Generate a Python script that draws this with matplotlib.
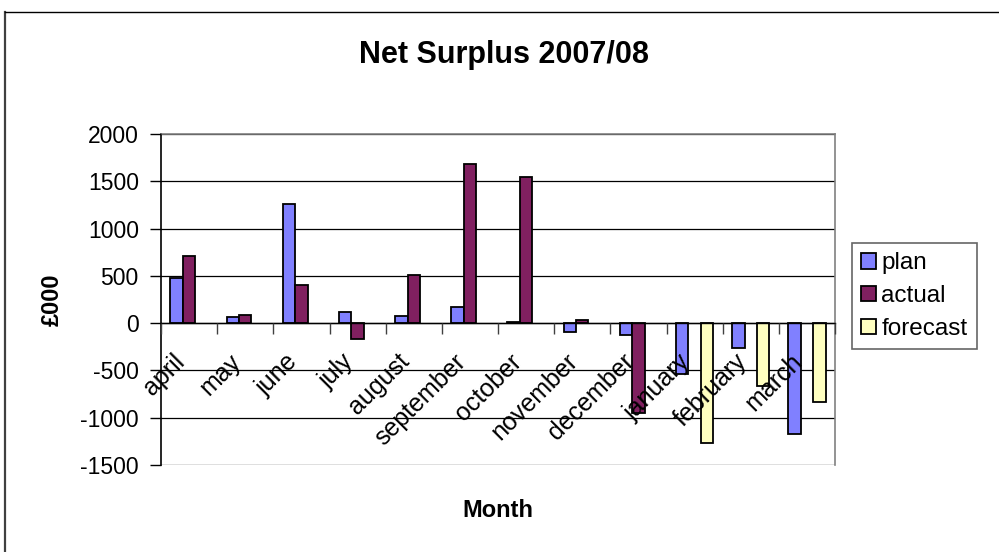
import numpy as np
import matplotlib.pyplot as plt
from matplotlib.lines import Line2D
from matplotlib.transforms import ScaledTranslation

months = ['april', 'may', 'june', 'july', 'august', 'september', 'october',
          'november', 'december', 'january', 'february', 'march']
plan = [480, 60, 1255, 115, 80, 175, 15, -95, -125, -535, -265, -1170]
actual = [715, 90, 405, -170, 510, 1685, 1550, 30, -950, np.nan, np.nan, np.nan]
forecast = [np.nan] * 9 + [-1270, -665, -830]
yticks = [-1500, -1000, -500, 0, 500, 1000, 1500, 2000]

plt.rcParams['font.family'] = ['Liberation Sans', 'DejaVu Sans']
plt.rcParams['axes.unicode_minus'] = False

W, H = 999, 552
fig = plt.figure(figsize=(W / 100, H / 100), dpi=100)
ax = fig.add_axes([161 / W, 1 - 465 / H, 674 / W, 331 / H])
ax.set_axisbelow(False)

x = np.arange(len(months))
bw = 1 / 4.5
series = [('plan', plan, '#8080ff'), ('actual', actual, '#802060'),
          ('forecast', forecast, '#ffffc0')]
for i, (name, vals, col) in enumerate(series):
    ax.bar(x + (i - 1) * bw, vals, bw, color=col, edgecolor='black',
           linewidth=1.3, label=name, zorder=2)

ax.set_xlim(-0.5, len(months) - 0.5)
ax.set_ylim(yticks[0], yticks[-1])
ax.set_yticks(yticks)
ax.tick_params(axis='y', labelsize=16.5, length=8, width=1, direction='out', pad=8)

# horizontal grid drawn under the bars
for v in yticks:
    ax.axhline(v, color='black', lw=0.9, zorder=0.5)

# category axis sits on zero, ticks on the category boundaries
ax.spines['bottom'].set_position(('data', 0))
ax.spines['bottom'].set_linewidth(1)
ax.set_xticks(x)
ax.set_xticklabels(months, rotation=45, ha='right', va='center',
                   rotation_mode='anchor', fontsize=18)
ax.tick_params(axis='x', which='major', length=0, pad=25)
shift = ScaledTranslation(-8 / 100, 0, fig.dpi_scale_trans)
for lab in ax.get_xticklabels():
    lab.set_transform(lab.get_transform() + shift)
ax.set_xticks(np.arange(len(months) + 1) - 0.5, minor=True)
ax.tick_params(axis='x', which='minor', length=8, width=1, color='#404040')

for s in ['top', 'right']:
    ax.spines[s].set_color('#808080')
    ax.spines[s].set_linewidth(1.2)
ax.spines['left'].set_linewidth(1.2)

fig.text(504 / W, 1 - 63 / H, 'Net Surplus 2007/08', ha='center',
         va='baseline', fontsize=22, fontweight='bold')
fig.text(498 / W, 1 - 517 / H, 'Month', ha='center', va='baseline',
         fontsize=17, fontweight='bold')
fig.text(52 / W, 1 - 300 / H, '£000', ha='center', va='center',
         rotation=90, fontsize=17, fontweight='bold')

leg = ax.legend(loc='upper left', bbox_to_anchor=(852 / W, 1 - 243 / H),
                bbox_transform=fig.transFigure, fontsize=17.5, frameon=True,
                fancybox=False, handlelength=0.62, handleheight=0.62,
                handletextpad=0.2, labelspacing=0.45, borderpad=0.38,
                borderaxespad=0)
leg.get_frame().set_edgecolor('#404040')
leg.get_frame().set_linewidth(1.2)

# outer chart border (left and top edges)
fig.add_artist(Line2D([4.5 / W, 4.5 / W], [0, 1 - 12 / H], color='#404040',
                      lw=1.6, transform=fig.transFigure))
fig.add_artist(Line2D([4.5 / W, 1], [1 - 12 / H, 1 - 12 / H], color='black',
                      lw=1.0, transform=fig.transFigure))

fig.savefig('out.png', dpi=100)
